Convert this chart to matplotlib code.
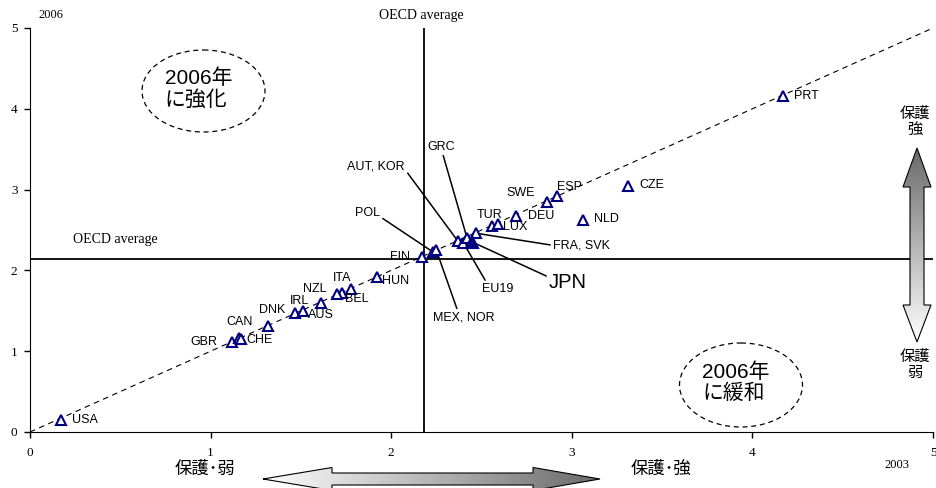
import matplotlib
matplotlib.use("Agg")
import matplotlib.pyplot as plt
import numpy as np
from matplotlib.patches import Polygon, Ellipse
from matplotlib.colors import LinearSegmentedColormap

plt.rcParams['font.family'] = ['Liberation Sans', 'Noto Sans CJK JP', 'DejaVu Sans']

# 国別データ (x: 2003, y: 2006)
countries = ['USA', 'GBR', 'CAN', 'CHE', 'DNK', 'IRL', 'AUS', 'NZL', 'ITA', 'BEL', '',
             'HUN', 'FIN', 'POL', 'MEX, NOR', 'AUT, KOR', 'EU19', 'GRC', 'JPN', 'FRA, SVK',
             'TUR', 'LUX', 'DEU', 'SWE', 'ESP', 'NLD', 'CZE', 'PRT']
x2003 = [0.17, 1.12, 1.16, 1.17, 1.32, 1.47, 1.51, 1.61, 1.73, 1.70, 1.78,
         1.92, 2.17, 2.23, 2.25, 2.37, 2.40, 2.42, 2.45, 2.47,
         2.56, 2.59, 2.69, 2.86, 2.92, 3.06, 3.31, 4.17]
y2006 = [0.15, 1.11, 1.16, 1.15, 1.31, 1.47, 1.50, 1.60, 1.72, 1.71, 1.77,
         1.92, 2.17, 2.23, 2.25, 2.36, 2.34, 2.40, 2.35, 2.46,
         2.55, 2.57, 2.67, 2.85, 2.92, 2.62, 3.04, 4.16]
oecd_2003 = 2.18
oecd_2006 = 2.14
ticks = [0, 1, 2, 3, 4, 5]

# ラベル位置 (offset points)
label_offsets = {
    'USA': (8, 0, 'left'), 'PRT': (8, 0, 'left'), 'CZE': (8, 1, 'left'),
    'NLD': (8, 1, 'left'), 'ESP': (0, 6.5, 'left'), 'SWE': (-8.6, 6.5, 'right'),
    'DEU': (8.6, 0, 'left'), 'TUR': (-2, 8, 'center'), 'LUX': (3.6, -2, 'left'),
    'FIN': (-8.6, 0, 'right'), 'HUN': (3.6, -3, 'left'), 'ITA': (0, 11, 'center'),
    'BEL': (5.8, -3.6, 'left'), 'NZL': (-4.3, 10, 'center'), 'IRL': (2.9, 8.6, 'center'),
    'AUS': (3.6, -2.9, 'left'), 'DNK': (2.9, 11.5, 'center'), 'CAN': (0, 11.5, 'center'),
    'GBR': (-10.8, 0, 'right'), 'CHE': (3.6, -1, 'left'),
}
# 引き出し線付きラベル (data coords)
leader_labels = {
    'POL': (1.938, 2.71, 'right', (1, 0.2)),
    'AUT, KOR': (2.076, 3.28, 'right', (1, 0.3)),
    'GRC': (2.276, 3.53, 'center', (0.55, 0)),
    'EU19': (2.503, 1.77, 'left', (0.15, 1)),
    'MEX, NOR': (2.403, 1.42, 'center', (0.4, 1)),
    'FRA, SVK': (2.896, 2.31, 'left', (0, 0.5)),
    'JPN': (2.874, 1.856, 'left', (0, 0.75)),
}

W, H = 936, 488
fig = plt.figure(figsize=(W / 100, H / 100), dpi=100)
ax = fig.add_axes([30 / W, (H - 432) / H, 903 / W, 404 / H])

ax.plot([0, 5], [0, 5], color='black', lw=0.8, dashes=(5, 4), zorder=1)
ax.axvline(oecd_2003, color='black', lw=1.3, zorder=1)
ax.axhline(oecd_2006, color='black', lw=1.3, zorder=1)

navy = '#000080'
xs = np.array(x2003)
ys = np.array(y2006)
is_jpn = np.array([c == 'JPN' for c in countries])
ax.plot(xs[~is_jpn], ys[~is_jpn], '^', ms=7.5, mfc='white', mec=navy, mew=1.5, ls='none', zorder=3)
ax.plot(xs[is_jpn], ys[is_jpn], '^', ms=9, mfc=navy, mec=navy, mew=1.5, ls='none', zorder=4)

for c, x, y in zip(countries, x2003, y2006):
    if c in label_offsets:
        dx, dy, ha = label_offsets[c]
        ax.annotate(c, (x, y), xytext=(dx, dy), textcoords='offset points',
                    ha=ha, va='center', fontsize=9, zorder=5)
    elif c in leader_labels:
        tx, ty, ha, rp = leader_labels[c]
        ax.annotate(c, (x, y), xytext=(tx, ty), textcoords='data', ha=ha, va='center',
                    fontsize=14.5 if c == 'JPN' else 9, annotation_clip=False, zorder=2,
                    arrowprops=dict(arrowstyle='-', color='black', lw=1.1,
                                    shrinkA=0, shrinkB=0, relpos=rp))

ax.set_xlim(0, 5)
ax.set_ylim(0, 5)
ax.set_xticks(ticks)
ax.set_yticks(ticks)
ax.spines['top'].set_visible(False)
ax.spines['right'].set_visible(False)
ax.tick_params(direction='out', length=4, width=1, labelsize=9.5)
ax.tick_params(axis='x', pad=7)
ax.tick_params(axis='y', pad=5)
for lab in ax.get_xticklabels() + ax.get_yticklabels():
    lab.set_fontfamily('Liberation Serif')

# 注釈用オーバーレイ (ピクセル座標)
ov = fig.add_axes([0, 0, 1, 1], zorder=5)
ov.set_xlim(0, W)
ov.set_ylim(H, 0)
ov.axis('off')
ov.patch.set_alpha(0)

serif = 'Liberation Serif'
ov.text(38, 15, '2006', fontsize=9, family=serif, va='center')
ov.text(421, 15, 'OECD average', fontsize=10, family=serif, ha='center', va='center')
ov.text(73, 240, 'OECD average', fontsize=10, family=serif, va='center')
ov.text(897, 465, '2003', fontsize=9, family=serif, ha='center', va='center')

for (cx, cy, w, h), txt in [((203.5, 91, 123, 82), '2006年\nに強化'),
                             ((741, 385, 123, 84), '2006年\nに緩和')]:
    ov.add_patch(Ellipse((cx, cy), w, h, fill=False, ec='black', lw=0.9, ls=(0, (4, 3))))
    ov.text(cx - 5, cy - 2, txt, fontsize=15, ha='center', va='center',
            multialignment='left', linespacing=1.1)

def grad_arrow(poly, extent, horizontal, dark_first):
    p = Polygon(poly, closed=True, fill=False, ec='black', lw=0.8, zorder=3)
    ov.add_patch(p)
    g = np.linspace(0, 1, 256)
    if dark_first:
        g = g[::-1]
    img = g[None, :] if horizontal else g[:, None]
    cmap = LinearSegmentedColormap.from_list('g', ['#ffffff', '#6a6a6a'])
    im = ov.imshow(img, cmap=cmap, extent=extent, aspect='auto', zorder=2, interpolation='bilinear')
    im.set_clip_path(p)

# 横矢印
cy, hh, sh = 479, 11.5, 6
hx = [(263, cy), (332, cy - hh), (332, cy - sh), (533, cy - sh), (533, cy - hh), (600, cy),
      (533, cy + hh), (533, cy + sh), (332, cy + sh), (332, cy + hh)]
grad_arrow(hx, (263, 600, cy + hh, cy - hh), True, False)
# 縦矢印
cx, hw, sw = 917, 14, 7
vx = [(cx, 148), (cx + hw, 187), (cx + sw, 187), (cx + sw, 305), (cx + hw, 305), (cx, 342),
      (cx - hw, 305), (cx - sw, 305), (cx - sw, 187), (cx - hw, 187)]
grad_arrow(vx, (cx - hw, cx + hw, 342, 148), False, True)

ov.text(205, 469, '保護･弱', fontsize=12.5, ha='center', va='center')
ov.text(661, 469, '保護･強', fontsize=12.5, ha='center', va='center')
ov.text(915, 122, '保護\n強', fontsize=11, ha='center', va='center', linespacing=1.2)
ov.text(915, 365, '保護\n弱', fontsize=11, ha='center', va='center', linespacing=1.2)

fig.savefig('out.png', dpi=100)
